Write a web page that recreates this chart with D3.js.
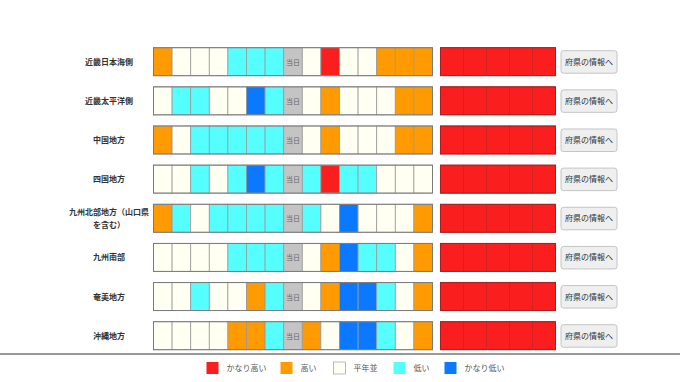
<!DOCTYPE html>
<html>
<head>
<meta charset="utf-8">
<script src="https://cdn.jsdelivr.net/npm/d3@7"></script>
<style>
  body { margin: 0; background: #fff; }
  svg { display: block; font-family: "Noto Sans CJK JP", "Noto Sans", sans-serif; }
</style>
</head>
<body>
<script>
// regions (row labels), label lines for wrapping
const regions = ['近畿日本海側', '近畿太平洋側', '中国地方', '四国地方', '九州北部地方（山口県を含む）', '九州南部', '奄美地方', '沖縄地方'];
const regionLines = [['近畿日本海側'], ['近畿太平洋側'], ['中国地方'], ['四国地方'], ['九州北部地方（山口県', 'を含む）'], ['九州南部'], ['奄美地方'], ['沖縄地方']];

// class codes: 5 かなり高い, 4 高い, 3 平年並, 2 低い, 1 かなり低い, 0 当日
const pastValues = [
    [4, 3, 3, 3, 2, 2, 2, 0, 3, 5, 3, 3, 4, 4, 4],
    [3, 2, 2, 3, 3, 1, 2, 0, 3, 4, 3, 3, 3, 4, 4],
    [4, 3, 2, 2, 2, 2, 2, 0, 3, 4, 3, 3, 3, 4, 4],
    [3, 3, 2, 3, 2, 1, 2, 0, 2, 5, 2, 2, 3, 3, 3],
    [4, 2, 3, 2, 2, 2, 2, 0, 2, 3, 1, 3, 3, 3, 4],
    [3, 3, 3, 3, 2, 2, 2, 0, 3, 4, 1, 2, 2, 3, 4],
    [3, 3, 2, 3, 3, 4, 2, 0, 3, 4, 1, 1, 2, 3, 4],
    [3, 3, 3, 3, 4, 4, 2, 0, 4, 3, 1, 1, 2, 3, 4]
];
const forecastValues = [
    [5, 5, 5, 5, 5],
    [5, 5, 5, 5, 5],
    [5, 5, 5, 5, 5],
    [5, 5, 5, 5, 5],
    [5, 5, 5, 5, 5],
    [5, 5, 5, 5, 5],
    [5, 5, 5, 5, 5],
    [5, 5, 5, 5, 5]
];

const legendCodes = [5, 4, 3, 2, 1];
const legendLabels = ['かなり高い', '高い', '平年並', '低い', 'かなり低い'];
const todayLabel = '当日';
const buttonLabel = '府県の情報へ';

const width = 680;
const height = 382;

const colorScale = d3.scaleOrdinal()
    .domain([5, 4, 3, 2, 1, 0])
    .range(['#fa1e1e', '#ff9a00', '#fffff2', '#55ffff', '#0a78ff', '#c4c4c4']);

const svg = d3.select('body').append('svg')
    .attr('width', width)
    .attr('height', height);

// scales
const yScale = d3.scaleBand()
    .domain(regions)
    .range([47.7, 349.7])
    .paddingInner(0.285)
    .paddingOuter(0);

const xPast = d3.scaleBand()
    .domain(d3.range(15))
    .range([153.5, 432.5]);

const xForecast = d3.scaleBand()
    .domain(d3.range(5))
    .range([440.5, 555.5]);

const rows = svg.selectAll('g.row')
    .data(regions)
    .join('g')
    .attr('class', 'row')
    .attr('transform', d => `translate(0,${yScale(d)})`);

const bh = yScale.bandwidth();

// region labels
rows.each(function(d, i) {
    const lines = regionLines[i];
    const lh = 12.5;
    const t = d3.select(this).append('text')
        .attr('text-anchor', 'middle')
        .style('font-size', '8px')
        .style('font-weight', 'bold')
        .style('fill', '#333');
    lines.forEach((ln, j) => {
        t.append('tspan')
            .attr('x', 109)
            .attr('y', bh / 2 + 3 + (j - (lines.length - 1) / 2) * lh)
            .text(ln);
    });
});

// past cells
rows.each(function(d, i) {
    const g = d3.select(this);
    g.selectAll('rect.past')
        .data(pastValues[i])
        .join('rect')
        .attr('class', 'past')
        .attr('x', (v, j) => xPast(j))
        .attr('y', 0)
        .attr('width', xPast.bandwidth())
        .attr('height', bh)
        .attr('fill', v => colorScale(v))
        .attr('stroke', '#9a9a9a')
        .attr('stroke-width', 0.8);

    g.selectAll('text.today')
        .data(pastValues[i].map((v, j) => ({ v, j })).filter(o => o.v === 0))
        .join('text')
        .attr('class', 'today')
        .attr('x', o => xPast(o.j) + xPast.bandwidth() / 2)
        .attr('y', bh / 2 + 3)
        .attr('text-anchor', 'middle')
        .style('font-size', '7px')
        .style('fill', '#666')
        .text(todayLabel);

    g.append('rect')
        .attr('x', xPast.range()[0])
        .attr('y', 0)
        .attr('width', xPast.range()[1] - xPast.range()[0])
        .attr('height', bh)
        .attr('fill', 'none')
        .attr('stroke', '#7a7a7a')
        .attr('stroke-width', 1);

    g.selectAll('rect.fc')
        .data(forecastValues[i])
        .join('rect')
        .attr('class', 'fc')
        .attr('x', (v, j) => xForecast(j))
        .attr('y', 0)
        .attr('width', xForecast.bandwidth())
        .attr('height', bh)
        .attr('fill', v => colorScale(v))
        .attr('stroke', '#c21818')
        .attr('stroke-width', 0.6);

    g.append('rect')
        .attr('x', xForecast.range()[0])
        .attr('y', 0)
        .attr('width', xForecast.range()[1] - xForecast.range()[0])
        .attr('height', bh)
        .attr('fill', 'none')
        .attr('stroke', '#a52020')
        .attr('stroke-width', 1);

    // button
    g.append('rect')
        .attr('x', 561)
        .attr('y', 3)
        .attr('width', 56)
        .attr('height', 22.5)
        .attr('rx', 2.5)
        .attr('fill', '#efefef')
        .attr('stroke', '#c4c4c4')
        .attr('stroke-width', 1);

    g.append('text')
        .attr('x', 589)
        .attr('y', bh / 2 + 3)
        .attr('text-anchor', 'middle')
        .style('font-size', '8px')
        .style('fill', '#333')
        .text(buttonLabel);
});

// separator
svg.append('line')
    .attr('x1', 0)
    .attr('x2', width)
    .attr('y1', 354)
    .attr('y2', 354)
    .attr('stroke', '#999')
    .attr('stroke-width', 2);

// legend
const legendX = [206.5, 280.5, 333.5, 393.5, 444.5];
const legend = svg.selectAll('g.legend')
    .data(legendCodes)
    .join('g')
    .attr('class', 'legend')
    .attr('transform', (d, i) => `translate(${legendX[i]},362)`);

legend.append('rect')
    .attr('width', 12)
    .attr('height', 12)
    .attr('fill', d => colorScale(d))
    .attr('stroke', d => d === 3 ? '#aaa' : 'none')
    .attr('stroke-width', 0.8);

legend.append('text')
    .attr('x', 20)
    .attr('y', 9)
    .style('font-size', '8px')
    .style('fill', '#555')
    .text((d, i) => legendLabels[i]);
</script>
</body>
</html>
